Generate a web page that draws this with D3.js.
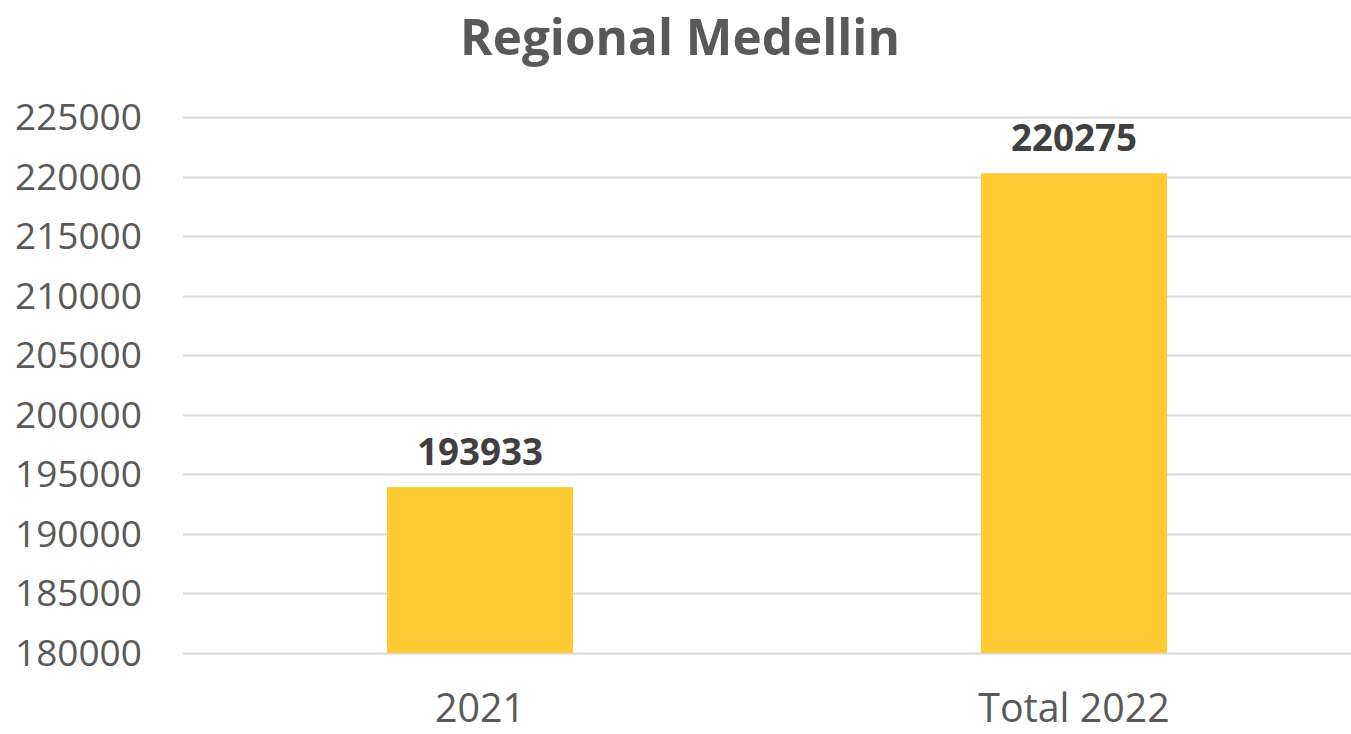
<!DOCTYPE html>
<html><head><meta charset="utf-8">
<script src="https://cdn.jsdelivr.net/npm/d3@7"></script>
<style>body{margin:0;background:#fff;} svg{display:block;}</style>
</head><body>
<svg id="c" width="1351" height="734"></svg>
<script>
const title = "Regional Medellin";
const categories = ["2021", "Total 2022"];
const values = [193933, 220275];
const yTicks = [180000, 185000, 190000, 195000, 200000, 205000, 210000, 215000, 220000, 225000];

const W = 1351, H = 734;
const svg = d3.select("#c");
const font = "'Open Sans', 'DejaVu Sans', sans-serif";

const y = d3.scaleLinear().domain([180000, 225000]).range([653, 117]);
const x = d3.scaleBand().domain(categories).range([183, 1371]).paddingInner(0.687).paddingOuter(0.3435);

function fit(sel, targetW) {
  sel.each(function(){
    const n = d3.select(this);
    const fs = parseFloat(n.attr("font-size"));
    const w = this.getComputedTextLength();
    n.attr("font-size", fs * targetW / w);
  });
}

// gridlines
svg.append("g").selectAll("line").data(yTicks).join("line")
  .attr("x1", 183).attr("x2", W)
  .attr("y1", d => Math.round(y(d)) + 0.5).attr("y2", d => Math.round(y(d)) + 0.5)
  .attr("stroke", "#d9d9d9").attr("stroke-width", 2);

// y axis labels
const yl = svg.append("g").selectAll("text").data(yTicks).join("text")
  .attr("x", 15).attr("y", d => y(d) + 13)
  .attr("font-family", font).attr("font-size", 37).attr("fill", "#595959")
  .text(d => d);
fit(yl, 127);

// bars
svg.append("g").selectAll("rect").data(values).join("rect")
  .attr("x", (d, i) => x(categories[i]))
  .attr("width", x.bandwidth())
  .attr("y", d => y(d))
  .attr("height", d => y(180000) - y(d))
  .attr("fill", "#FFCA33");

// value labels
const vl = svg.append("g").selectAll("text").data(values).join("text")
  .attr("x", (d, i) => x(categories[i]) + x.bandwidth() / 2)
  .attr("y", d => y(d) - 22)
  .attr("text-anchor", "middle")
  .attr("font-family", font).attr("font-weight", "bold").attr("font-size", 34).attr("fill", "#404040")
  .text(d => d);
fit(vl, 126);

// x labels
const xl = svg.append("g").selectAll("text").data(categories).join("text")
  .attr("x", d => x(d) + x.bandwidth() / 2)
  .attr("y", 722)
  .attr("text-anchor", "middle")
  .attr("font-family", font).attr("font-size", 40).attr("fill", "#595959")
  .text(d => d);
(function(){
  const first = xl.nodes()[0];
  const w = first.getComputedTextLength();
  const fs = 40 * 90 / w;
  xl.attr("font-size", fs);
})();

// title
const t = svg.append("text")
  .attr("x", 680).attr("y", 55).attr("text-anchor", "middle")
  .attr("font-family", font).attr("font-weight", "bold").attr("font-size", 52).attr("fill", "#595959")
  .text(title);
fit(t, 440);
</script>
</body></html>
